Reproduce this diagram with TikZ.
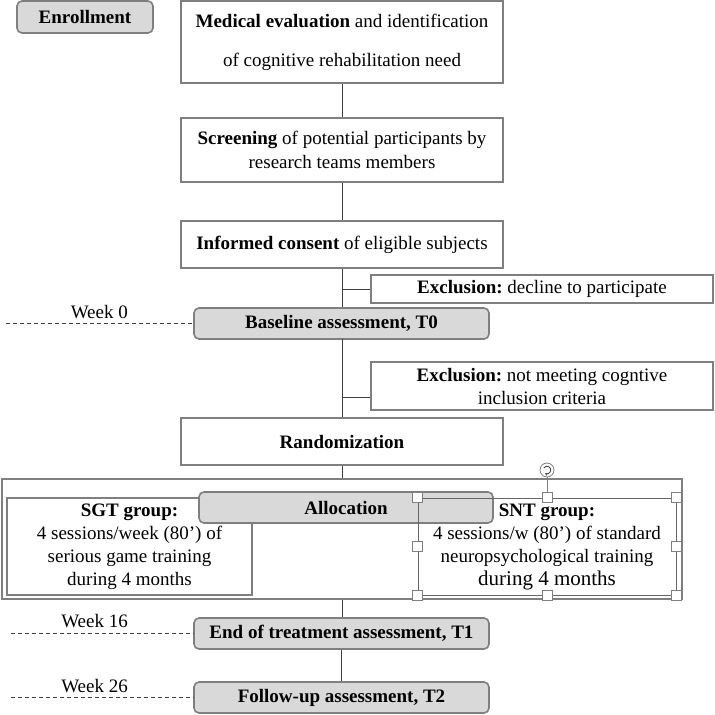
\documentclass[tikz,border=0pt]{standalone}
\usepackage{fontspec}
\setmainfont{Liberation Serif}
\usetikzlibrary{arrows.meta}
\definecolor{bordergray}{HTML}{7F7F7F}
\definecolor{fillgray}{HTML}{D9D9D9}
\definecolor{linegray}{HTML}{404040}
\frenchspacing
\begin{document}
\begin{tikzpicture}[x=1pt,y=-1pt,
  every node/.style={font=\fontsize{19}{23}\selectfont},
  whitebox/.style={draw=bordergray, line width=1.6pt, fill=white, inner sep=0pt, align=center},
  graybox/.style={draw=bordergray, line width=1.6pt, fill=fillgray, rounded corners=5pt, inner sep=0pt, align=center, font=\fontsize{19}{23}\selectfont\bfseries},
  conn/.style={draw=linegray, line width=0.8pt},
  weekline/.style={draw=linegray, line width=0.7pt, dash pattern=on 4pt off 3pt},
  weeklabel/.style={anchor=east, inner sep=0pt},
  selbox/.style={draw=linegray!80, line width=0.9pt, inner sep=0pt, align=center},
  handle/.style={draw=bordergray, fill=white, line width=0.8pt, minimum size=10pt, inner sep=0pt}
]
\useasboundingbox (0,0) rectangle (715,715);

% main column
\node[graybox, minimum width=136pt, minimum height=32pt] (enroll) at (85,17) {Enrollment};
\node[whitebox, minimum width=322pt, minimum height=82pt] (med) at (342,42)
  {\textbf{Medical evaluation} and identification\\[16pt] of cognitive rehabilitation need};
\node[whitebox, minimum width=322pt, minimum height=64pt, font=\fontsize{19}{24}\selectfont] (scr) at (342,150)
  {\textbf{Screening} of potential participants by\\ research teams members};
\node[whitebox, minimum width=322pt, minimum height=47pt] (ic) at (342,244.5)
  {\textbf{Informed consent} of eligible subjects};
\node[whitebox, minimum width=342pt, minimum height=28pt] (excl1) at (542,289)
  {\textbf{Exclusion:} decline to participate};
\node[graybox, minimum width=295pt, minimum height=31pt] (base) at (341.5,323.5)
  {Baseline assessment, T0};
\node[whitebox, minimum width=342pt, minimum height=48pt] (excl2) at (542,386)
  {\textbf{Exclusion:} not meeting cogntive\\ inclusion criteria};
\node[whitebox, minimum width=322pt, minimum height=47pt] (rand) at (342,441.5)
  {\textbf{Randomization}};

% allocation frame
\node[whitebox, minimum width=680pt, minimum height=120pt] (frame) at (342,539) {};
\node[whitebox, minimum width=245pt, minimum height=97pt] (sgt) at (129.5,546.5)
  {\textbf{SGT group:}\\ 4 sessions/week (80’) of\\ serious game training\\ during 4 months};
\node[graybox, minimum width=294pt, minimum height=31pt] (alloc) at (346,507.5) {Allocation};
\node[selbox, minimum width=258pt, minimum height=97pt] (snt) at (547,546.5)
  {\textbf{SNT group:}\\ 4 sessions/w (80’) of standard\\ neuropsychological training\\ {\fontsize{21}{23}\selectfont during 4 months}};

% selection handles
\node[handle] (h1) at (snt.north west) {};
\node[handle] (h2) at (snt.north) {};
\node[handle] (h3) at (snt.north east) {};
\node[handle] (h4) at (snt.east) {};
\node[handle] (h5) at (snt.south east) {};
\node[handle] (h6) at (snt.south) {};
\node[handle] (h7) at (snt.south west) {};
\node[handle] (h8) at (snt.west) {};
\node[circle, draw=bordergray, fill=white, line width=0.8pt, minimum size=14pt, inner sep=0pt] (rot) at (547,470) {};
\draw[draw=bordergray, line width=0.8pt] (rot.south) -- (h2.north);
\draw[draw=linegray, line width=0.8pt, -{Stealth[length=2.5pt,width=3pt]}] (rot.center) ++(150:3.8pt) arc[start angle=150, end angle=-120, radius=3.8pt];

% follow-up
\node[graybox, minimum width=295pt, minimum height=31pt] (endt) at (341.5,633.5)
  {End of treatment assessment, T1};
\node[graybox, minimum width=295pt, minimum height=31pt] (fu) at (341.5,697.5)
  {Follow-up assessment, T2};

% trunk connectors
\draw[conn] (med.south) -- (scr.north);
\draw[conn] (scr.south) -- (ic.north);
\draw[conn] (ic.south) -- (ic.south |- base.north);
\draw[conn] (base.south) -- (base.south -| rand.north) -- (rand.north);
\draw[conn] (rand.south) -- (frame.north);
\draw[conn] (frame.south) -- (frame.south |- endt.north);
\draw[conn] (endt.south) -- (fu.north);
\draw[conn] (excl1.west) -- (excl1.west -| ic.south);
\draw[conn] ([yshift=-11pt]excl2.west) -- ([yshift=-11pt]excl2.west -| ic.south);

% week markers
\coordinate (w0) at (6,323.5);
\coordinate (w16) at (11,633.5);
\coordinate (w26) at (11,697.5);
\draw[weekline] (w0) -- (base.west);
\draw[weekline] (w16) -- (endt.west);
\draw[weekline] (w26) -- (fu.west);
\node[weeklabel] (lw0) at (128,312) {Week 0};
\node[weeklabel] (lw16) at (128,621) {Week 16};
\node[weeklabel] (lw26) at (128,686) {Week 26};
\end{tikzpicture}
\end{document}
